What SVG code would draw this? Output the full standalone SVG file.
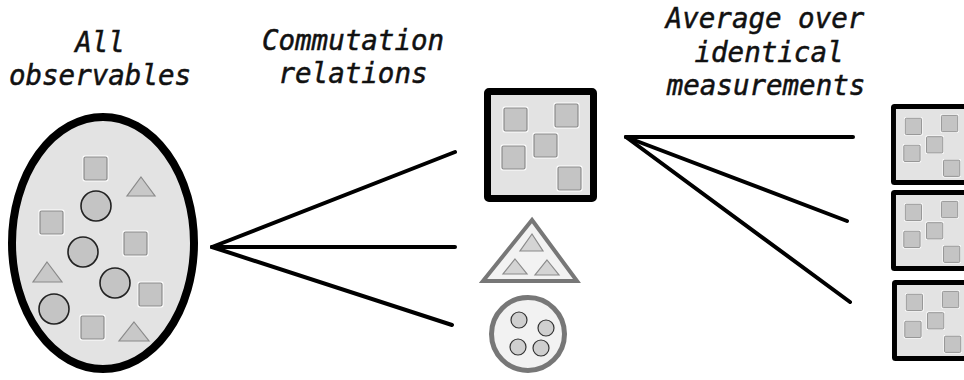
<svg xmlns="http://www.w3.org/2000/svg" xmlns:xlink="http://www.w3.org/1999/xlink" width="964" height="380" viewBox="0 0 964 380">
<style>
.lbl{font-family:"DejaVu Sans Mono","Liberation Mono",monospace;font-style:italic;font-size:27.5px;fill:#111;stroke:#111;stroke-width:0.5;text-anchor:middle}
.conn{stroke:#000;stroke-width:4;stroke-linecap:round;fill:none}
.sqi{fill:#c4c4c4;stroke:#8a8a8a;stroke-width:1.2}
.halo{fill:#fff}
.tri{fill:#c8c8c8;stroke:#8a8a8a;stroke-width:1.2}
.cir{fill:#c4c4c4;stroke:#222;stroke-width:1.6}
.cir2{fill:#cfcfcf;stroke:#333;stroke-width:1.2}
.tri2{fill:#d4d4d4;stroke:#8a8a8a;stroke-width:1.2}
</style>
<defs>
<g id="sq">
<rect class="halo" x="-1.5" y="-1.5" width="26" height="26" rx="2"/>
<rect class="sqi" x="0" y="0" width="23" height="23" rx="1.5"/>
</g>
<g id="box">
<rect x="3.5" y="3.5" width="106" height="107" fill="#e3e3e3" stroke="#000" stroke-width="7" rx="1.5"/>
<use xlink:href="#sq" x="20" y="20"/>
<use xlink:href="#sq" x="71" y="16"/>
<use xlink:href="#sq" x="50" y="46"/>
<use xlink:href="#sq" x="18" y="58"/>
<use xlink:href="#sq" x="74" y="79"/>
</g>
</defs>
<rect width="964" height="380" fill="#fff"/>

<g id="labels">
<text class="lbl" x="100" y="52">All</text>
<text class="lbl" x="100" y="85">observables</text>
<text class="lbl" x="353" y="50">Commutation</text>
<text class="lbl" x="353" y="83">relations</text>
<text class="lbl" x="765" y="28">Average over</text>
<text class="lbl" x="769" y="62">identical</text>
<text class="lbl" x="766" y="95">measurements</text>
</g>

<g id="connectors">
<line class="conn" x1="212" y1="247" x2="455" y2="152"/>
<line class="conn" x1="212" y1="247" x2="455" y2="247"/>
<line class="conn" x1="212" y1="247" x2="452" y2="325"/>
<line class="conn" x1="626" y1="137" x2="853" y2="137"/>
<line class="conn" x1="626" y1="137" x2="847" y2="221"/>
<line class="conn" x1="626" y1="137" x2="850" y2="302"/>
</g>

<g id="all-observables">
<ellipse cx="103" cy="243" rx="91" ry="126" fill="#e3e3e3" stroke="#000" stroke-width="8"/>
<use xlink:href="#sq" x="84" y="157"/>
<use xlink:href="#sq" x="40" y="211"/>
<use xlink:href="#sq" x="124" y="232"/>
<use xlink:href="#sq" x="139" y="283"/>
<use xlink:href="#sq" x="81" y="316"/>
<polygon class="tri" points="141,177 155,196 127,196"/>
<polygon class="tri" points="47,262 62,282 33,282"/>
<polygon class="tri" points="134,322 149,341 119,341"/>
<circle class="cir" cx="96" cy="206" r="15"/>
<circle class="cir" cx="83" cy="252" r="15"/>
<circle class="cir" cx="115" cy="283" r="15"/>
<circle class="cir" cx="54" cy="309" r="15"/>
</g>

<g id="square-group">
<use xlink:href="#box" x="484" y="88"/>
</g>

<g id="triangle-group">
<polygon points="532,220 577,281 483,281" fill="#f2f2f2" stroke="#777" stroke-width="4" stroke-linejoin="miter"/>
<polygon class="tri2" points="532,234 543,251 520,251"/>
<polygon class="tri2" points="515,259 527,274 503,274"/>
<polygon class="tri2" points="547,260 559,275 535,275"/>
</g>

<g id="circle-group">
<circle cx="528" cy="334" r="36.5" fill="#f2f2f2" stroke="#777" stroke-width="5"/>
<circle class="cir2" cx="519" cy="320" r="8"/>
<circle class="cir2" cx="546" cy="328" r="8"/>
<circle class="cir2" cx="518" cy="347" r="8"/>
<circle class="cir2" cx="541" cy="348" r="8"/>
</g>

<g id="measurement-1">
<use xlink:href="#box" transform="translate(891,104) scale(0.71)"/>
</g>
<g id="measurement-2">
<use xlink:href="#box" transform="translate(891,190) scale(0.71)"/>
</g>
<g id="measurement-3">
<use xlink:href="#box" transform="translate(892,280) scale(0.71)"/>
</g>
</svg>
